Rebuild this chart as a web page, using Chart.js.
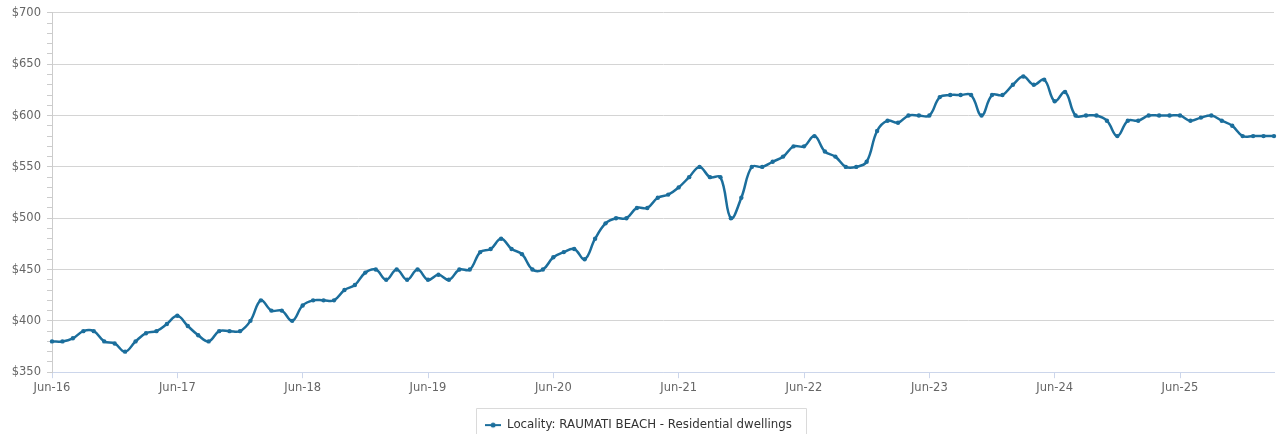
<!DOCTYPE html>
<html>
<head>
<meta charset="utf-8">
<script src="https://cdn.jsdelivr.net/npm/chart.js@4.4.1/dist/chart.umd.min.js"></script>
<style>
html,body{margin:0;padding:0;background:#ffffff;}
#wrap{width:1281px;height:434px;position:relative;}
</style>
</head>
<body>
<div id="wrap"><canvas id="c"></canvas></div>
<script>
const categories = [
 'Jun-16','Jul-16','Aug-16','Sep-16','Oct-16','Nov-16','Dec-16','Jan-17','Feb-17','Mar-17','Apr-17','May-17',
 'Jun-17','Jul-17','Aug-17','Sep-17','Oct-17','Nov-17','Dec-17','Jan-18','Feb-18','Mar-18','Apr-18','May-18',
 'Jun-18','Jul-18','Aug-18','Sep-18','Oct-18','Nov-18','Dec-18','Jan-19','Feb-19','Mar-19','Apr-19','May-19',
 'Jun-19','Jul-19','Aug-19','Sep-19','Oct-19','Nov-19','Dec-19','Jan-20','Feb-20','Mar-20','Apr-20','May-20',
 'Jun-20','Jul-20','Aug-20','Sep-20','Oct-20','Nov-20','Dec-20','Jan-21','Feb-21','Mar-21','Apr-21','May-21',
 'Jun-21','Jul-21','Aug-21','Sep-21','Oct-21','Nov-21','Dec-21','Jan-22','Feb-22','Mar-22','Apr-22','May-22',
 'Jun-22','Jul-22','Aug-22','Sep-22','Oct-22','Nov-22','Dec-22','Jan-23','Feb-23','Mar-23','Apr-23','May-23',
 'Jun-23','Jul-23','Aug-23','Sep-23','Oct-23','Nov-23','Dec-23','Jan-24','Feb-24','Mar-24','Apr-24','May-24',
 'Jun-24','Jul-24','Aug-24','Sep-24','Oct-24','Nov-24','Dec-24','Jan-25','Feb-25','Mar-25','Apr-25','May-25',
 'Jun-25','Jul-25','Aug-25','Sep-25','Oct-25','Nov-25','Dec-25','Jan-26','Feb-26','Mar-26'
];
const rentValues = [
 380,380,383,390,390,380,378,370,380,388,390,397,
 405,395,386,380,390,390,390,400,420,410,410,400,
 415,420,420,420,430,435,447,450,440,450,440,450,
 440,445,440,450,450,467,470,480,470,465,450,450,
 462,467,470,460,480,495,500,500,510,510,520,523,
 530,540,550,540,540,500,520,550,550,555,560,570,
 570,580,565,560,550,550,555,585,595,593,600,600,
 600,618,620,620,620,600,620,620,630,638,630,635,
 614,623,600,600,600,595,580,595,595,600,600,600,
 600,595,598,600,595,590,580,580,580,580
];
const xTickLabels = ['Jun-16','Jun-17','Jun-18','Jun-19','Jun-20','Jun-21','Jun-22','Jun-23','Jun-24','Jun-25'];
const yMajorTicks = [350,400,450,500,550,600,650,700];
const seriesName = 'Locality: RAUMATI BEACH - Residential dwellings';

const LINE_COLOR = '#1b6e9c';
const FONT = '"DejaVu Sans", Verdana, sans-serif';

// legend icon: line with a dot
const icon = document.createElement('canvas');
icon.width = 16; icon.height = 8;
(function(){
  const g = icon.getContext('2d');
  g.strokeStyle = LINE_COLOR; g.lineWidth = 2;
  g.beginPath(); g.moveTo(0,4); g.lineTo(16,4); g.stroke();
  g.fillStyle = LINE_COLOR; g.beginPath(); g.arc(8,4,2.5,0,Math.PI*2); g.fill();
})();

const legendBorder = {
  id: 'legendBorder',
  afterDraw(chart) {
    const lg = chart.legend;
    if (!lg || !lg.legendHitBoxes || !lg.legendHitBoxes.length) return;
    const hb = lg.legendHitBoxes[0];
    const ctx = chart.ctx;
    ctx.save();
    ctx.strokeStyle = '#dadada';
    ctx.lineWidth = 1;
    const l = Math.round(hb.left - 9) + 0.5;
    const r = Math.round(hb.left + hb.width + 14) + 0.5;
    const t = Math.round(hb.top - 11) + 0.5;
    const b = chart.height + 2;
    ctx.beginPath();
    ctx.moveTo(l, b); ctx.lineTo(l, t); ctx.lineTo(r, t); ctx.lineTo(r, b);
    ctx.stroke();
    ctx.restore();
  }
};

new Chart(document.getElementById('c'), {
  type: 'line',
  data: {
    labels: categories,
    datasets: [{
      label: seriesName,
      data: rentValues,
      borderColor: LINE_COLOR,
      backgroundColor: LINE_COLOR,
      borderWidth: 2.5,
      pointRadius: 2.2,
      pointHoverRadius: 3,
      pointBackgroundColor: LINE_COLOR,
      pointBorderWidth: 0,
      tension: 0.4,
      fill: false
    }]
  },
  options: {
    responsive: true,
    maintainAspectRatio: false,
    animation: false,
    layout: { padding: { top: 12, right: 7, left: 3, bottom: -7 } },
    plugins: {
      legend: {
        position: 'bottom',
        labels: {
          usePointStyle: true,
          pointStyleWidth: 16,
          padding: 10,
          color: '#333333',
          font: { family: FONT, size: 11.8 },
          generateLabels: (chart) => [{
            text: seriesName,
            pointStyle: icon,
            fillStyle: LINE_COLOR,
            strokeStyle: LINE_COLOR,
            lineWidth: 0,
            hidden: false,
            datasetIndex: 0,
            fontColor: '#333333'
          }]
        }
      },
      tooltip: { enabled: false }
    },
    scales: {
      x: {
        type: 'category',
        offset: false,
        afterBuildTicks: (scale) => {
          scale.ticks = scale.ticks.filter(t => xTickLabels.includes(categories[t.value]));
        },
        afterFit: (scale) => { scale.height = 37; },
        ticks: {
          autoSkip: false,
          maxRotation: 0,
          minRotation: 0,
          padding: 3,
          color: '#666666',
          font: { family: FONT, size: 11.5 },
          callback: function(value) { return categories[value]; }
        },
        grid: {
          drawOnChartArea: false,
          drawTicks: true,
          tickLength: 6,
          tickColor: '#ccd6eb',
          color: '#ccd6eb'
        },
        border: { display: true, color: '#ccd6eb', width: 1 }
      },
      y: {
        min: 350,
        max: 700,
        afterFit: (scale) => { scale.width = 49; },
        ticks: {
          stepSize: 10,
          autoSkip: false,
          padding: 6,
          color: '#666666',
          font: { family: FONT, size: 11.5 },
          callback: (v) => yMajorTicks.includes(v) ? '$' + v : ''
        },
        grid: {
          drawTicks: true,
          tickLength: 5,
          color: (ctx) => (ctx.tick && yMajorTicks.includes(ctx.tick.value)) ? '#d4d4d4' : 'rgba(0,0,0,0)',
          tickColor: '#cccccc'
        },
        border: { display: true, color: '#cccccc', width: 1 }
      }
    }
  },
  plugins: [legendBorder]
});
</script>
</body>
</html>
